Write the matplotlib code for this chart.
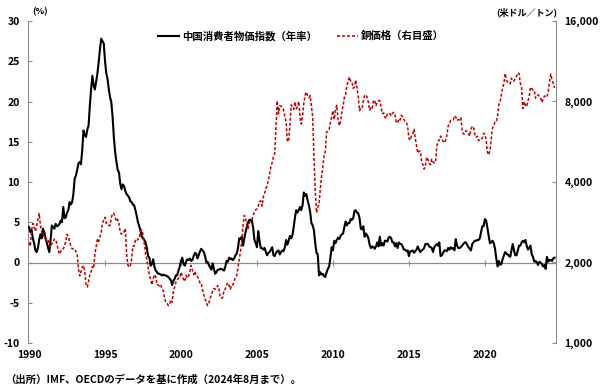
import matplotlib
matplotlib.use("Agg")
import matplotlib.pyplot as plt
import matplotlib.transforms as mtransforms
from matplotlib.ticker import FixedLocator, NullLocator
import numpy as np

plt.rcParams['font.family'] = ['Noto Sans CJK JP', 'DejaVu Sans']
plt.rcParams['axes.unicode_minus'] = False
plt.rcParams['lines.scale_dashes'] = False

start_year = 1990
# China CPI, year on year (%), monthly from 1990-01 to 2024-08
cpi_yoy = [
    4.4, 3.8, 4.0, 3.0, 2.4, 1.5, 1.3, 1.8, 2.8, 3.5, 3.0, 4.2,        # 1990
    3.8, 3.0, 2.5, 1.8, 1.3, 2.8, 4.6, 4.4, 4.2, 4.8, 4.5, 4.6,        # 1991
    4.8, 5.2, 5.0, 6.9, 5.5, 5.6, 6.2, 6.5, 7.5, 7.2, 7.5, 8.5,        # 1992
    10.4, 10.8, 11.5, 12.3, 12.5, 12.2, 14.0, 16.4, 15.8, 15.6, 16.5, 17.0,  # 1993
    19.5, 21.5, 23.2, 22.0, 21.5, 22.5, 23.5, 24.9, 26.5, 27.8, 27.5, 27.2,  # 1994
    25.0, 23.5, 22.8, 21.5, 20.5, 19.9, 18.0, 15.5, 13.7, 12.5, 11.5, 11.2,  # 1995
    9.8, 9.1, 9.7, 9.5, 8.9, 8.5, 8.3, 8.1, 7.6, 7.5, 7.2, 7.1,        # 1996
    6.5, 5.8, 5.0, 4.5, 4.0, 3.2, 3.0, 2.8, 2.5, 1.8, 0.8, 0.6,        # 1997
    -0.4, -0.2, 0.4, -0.5, -1.0, -1.2, -1.4, -1.4, -1.5, -1.6, -1.5, -1.6,  # 1998
    -1.6, -1.7, -1.8, -2.0, -2.2, -2.8, -2.3, -2.0, -1.6, -1.6, -1.0, -0.5,  # 1999
    0.2, 0.6, -0.2, -0.4, 0.1, 0.4, 0.3, 0.5, 0.2, 0.3, 0.8, 1.2,      # 2000
    1.1, 0.5, 0.9, 1.4, 1.7, 1.5, 1.3, 0.8, 0.0, 0.1, -0.3, -0.6,      # 2001
    -0.9, -0.1, -0.8, -1.4, -1.2, -0.9, -0.9, -0.8, -0.8, -0.9, -1.0, -0.5,  # 2002
    0.2, 0.1, 0.6, 0.4, 0.5, 0.3, 0.5, 0.9, 1.1, 1.8, 3.0, 2.9,        # 2003
    3.2, 2.1, 3.0, 3.8, 4.4, 5.0, 5.3, 5.3, 5.2, 4.3, 2.8, 2.4,        # 2004
    1.9, 3.9, 2.7, 1.8, 1.8, 1.6, 1.8, 1.3, 0.9, 1.2, 1.3, 1.6,        # 2005
    1.9, 0.9, 0.8, 1.2, 1.4, 1.5, 1.0, 1.3, 1.5, 1.4, 1.9, 2.8,        # 2006
    2.2, 2.7, 3.3, 3.0, 3.4, 4.4, 5.6, 6.5, 6.2, 6.5, 6.9, 6.5,        # 2007
    7.1, 8.7, 8.3, 8.5, 7.7, 7.1, 6.3, 4.9, 4.6, 4.0, 2.4, 1.2,        # 2008
    1.0, -1.6, -1.2, -1.5, -1.4, -1.7, -1.8, -1.2, -0.8, -0.5, 0.6, 1.9,  # 2009
    1.5, 2.7, 2.4, 2.8, 3.1, 2.9, 3.3, 3.5, 3.6, 4.4, 5.1, 4.6,        # 2010
    4.9, 4.9, 5.4, 5.3, 5.5, 6.4, 6.5, 6.2, 6.1, 5.5, 4.2, 4.1,        # 2011
    4.5, 3.2, 3.6, 3.4, 3.0, 2.2, 1.8, 2.0, 1.9, 1.7, 2.0, 2.5,        # 2012
    2.0, 3.2, 2.1, 2.4, 2.1, 2.7, 2.7, 2.6, 3.1, 3.2, 3.0, 2.5,        # 2013
    2.5, 2.0, 2.4, 1.8, 2.5, 2.3, 2.3, 2.0, 1.6, 1.6, 1.4, 1.5,        # 2014
    0.8, 1.4, 1.4, 1.5, 1.2, 1.4, 1.6, 2.0, 1.6, 1.3, 1.5, 1.6,        # 2015
    1.8, 2.3, 2.3, 2.3, 2.0, 1.9, 1.8, 1.3, 1.9, 2.1, 2.3, 2.1,        # 2016
    2.5, 0.8, 0.9, 1.2, 1.5, 1.5, 1.4, 1.8, 1.6, 1.9, 1.7, 1.8,        # 2017
    1.5, 2.9, 2.1, 1.8, 1.8, 1.9, 2.1, 2.3, 2.5, 2.5, 2.2, 1.9,        # 2018
    1.7, 1.5, 2.3, 2.5, 2.7, 2.7, 2.8, 2.8, 3.0, 3.8, 4.5, 4.5,        # 2019
    5.4, 5.2, 4.3, 3.3, 2.4, 2.5, 2.7, 2.4, 1.7, 0.5, -0.5, 0.2,       # 2020
    -0.3, -0.2, 0.4, 0.9, 1.3, 1.1, 1.0, 0.8, 0.7, 1.5, 2.3, 1.5,      # 2021
    0.9, 0.9, 1.5, 2.1, 2.1, 2.5, 2.7, 2.5, 2.8, 2.1, 1.6, 1.8,        # 2022
    2.1, 1.0, 0.7, 0.1, 0.2, 0.0, -0.3, 0.1, 0.0, -0.2, -0.5, -0.3,    # 2023
    -0.8, 0.7, 0.1, 0.3, 0.3, 0.2, 0.5, 0.6,                           # 2024
]

# Copper price (USD/ton), monthly from 1990-01 to 2024-08
copper_usd = [
    2370, 2300, 2650, 2800, 2700, 2620, 2750, 2900, 3050, 2750, 2600, 2550,  # 1990
    2500, 2420, 2450, 2450, 2300, 2280, 2350, 2380, 2450, 2430, 2350, 2220,  # 1991
    2150, 2200, 2250, 2250, 2300, 2400, 2550, 2500, 2400, 2300, 2250, 2250,  # 1992
    2250, 2200, 2150, 1900, 1780, 1850, 1920, 1950, 1850, 1650, 1620, 1700,  # 1993
    1800, 1850, 1930, 1900, 2150, 2300, 2450, 2400, 2500, 2600, 2800, 2900,  # 1994
    2950, 2800, 2800, 2750, 2750, 2950, 3050, 3050, 2950, 2850, 2900, 2800,  # 1995
    2600, 2550, 2600, 2600, 2680, 2150, 1960, 1920, 1950, 2050, 2300, 2300,  # 1996
    2420, 2400, 2450, 2450, 2620, 2650, 2550, 2350, 2150, 2050, 1920, 1800,  # 1997
    1720, 1650, 1740, 1800, 1770, 1650, 1650, 1630, 1650, 1590, 1570, 1470,  # 1998
    1420, 1410, 1380, 1400, 1450, 1420, 1570, 1620, 1690, 1720, 1750, 1750,  # 1999
    1840, 1780, 1730, 1700, 1790, 1750, 1780, 1850, 1950, 1870, 1800, 1850,  # 2000
    1780, 1770, 1740, 1670, 1670, 1580, 1520, 1460, 1420, 1380, 1410, 1470,  # 2001
    1510, 1560, 1600, 1590, 1600, 1640, 1590, 1480, 1470, 1480, 1580, 1590,  # 2002
    1650, 1680, 1640, 1590, 1650, 1650, 1710, 1760, 1790, 1920, 2060, 2200,  # 2003
    2420, 2760, 3000, 2950, 2740, 2680, 2820, 2850, 2900, 3000, 3100, 3150,  # 2004
    3170, 3250, 3380, 3400, 3250, 3520, 3620, 3790, 3860, 4060, 4270, 4580,  # 2005
    4730, 4980, 5100, 6380, 8050, 7200, 7710, 7690, 7600, 7450, 7030, 6680,  # 2006
    5670, 5690, 6450, 7770, 7650, 7480, 7970, 7510, 7650, 8010, 6960, 6590,  # 2007
    7060, 7890, 8430, 8690, 8380, 8270, 8410, 7640, 6990, 4930, 3720, 3070,  # 2008
    3220, 3310, 3750, 4200, 4570, 5010, 5220, 6160, 6190, 6290, 6680, 6980,  # 2009
    7390, 6850, 7460, 7750, 6840, 6500, 6740, 7280, 7710, 8290, 8470, 9150,  # 2010
    9550, 9870, 9530, 9490, 8960, 9070, 9620, 9000, 8300, 7390, 7580, 7560,  # 2011
    8040, 8440, 8470, 8290, 7920, 7420, 7580, 7510, 8090, 8060, 7710, 7960,  # 2012
    8050, 8060, 7650, 7200, 7250, 7000, 6910, 7190, 7160, 7200, 7070, 7220,  # 2013
    7290, 7150, 6650, 6670, 6890, 6820, 7110, 7000, 6870, 6740, 6710, 6450,  # 2014
    5830, 5730, 5940, 6040, 6300, 5830, 5460, 5130, 5220, 5220, 4800, 4640,  # 2015
    4470, 4600, 4950, 4870, 4690, 4640, 4870, 4750, 4720, 4730, 5450, 5660,  # 2016
    5750, 5940, 5820, 5680, 5600, 5720, 5990, 6480, 6580, 6810, 6830, 6830,  # 2017
    7070, 7000, 6800, 6840, 6830, 6960, 6250, 6050, 6050, 6220, 6190, 6070,  # 2018
    5940, 6300, 6440, 6440, 6030, 5880, 5940, 5710, 5760, 5760, 5860, 6080,  # 2019
    6050, 5690, 5180, 5050, 5240, 5760, 6370, 6500, 6700, 6710, 7070, 7770,  # 2020
    7970, 8460, 9000, 9340, 10180, 9610, 9440, 9360, 9320, 9780, 9550, 9550,  # 2021
    9780, 9940, 10240, 10180, 9360, 9030, 7530, 7980, 7750, 7650, 8030, 8370,  # 2022
    9040, 8950, 8820, 8810, 8230, 8390, 8470, 8350, 8270, 7940, 8170, 8390,  # 2023
    8340, 8310, 8680, 9480, 10130, 9640, 9350, 8990,                         # 2024
]

left_ticks = [-10, -5, 0, 5, 10, 15, 20, 25, 30]
right_ticks = [1000, 2000, 4000, 8000, 16000]
right_tick_labels = ['1,000', '2,000', '4,000', '8,000', '16,000']
year_ticks = [1990, 1995, 2000, 2005, 2010, 2015, 2020]

label_cpi = '中国消費者物価指数（年率）'
label_copper = '銅価格（右目盛）'
unit_left = '(%)'
unit_right = '(米ドル／トン)'
source_note = '（出所）IMF、OECDのデータを基に作成（2024年8月まで）。'

x_cpi = start_year + np.arange(len(cpi_yoy)) / 12.0
x_cu = start_year + np.arange(len(copper_usd)) / 12.0

W, H = 600, 391
fig = plt.figure(figsize=(W / 100, H / 100), dpi=100)
ax = fig.add_axes([28 / W, 1 - 343 / H, 528 / W, 322 / H])
ax2 = ax.twinx()

gray = '#8c8c8c'
fs = 7.5

l1, = ax.plot(x_cpi, cpi_yoy, color='black', lw=1.5, zorder=3)
l2, = ax2.plot(x_cu, copper_usd, color='#c00000', lw=1.1, dashes=(2.2, 1.4))

ax.set_xlim(1989.93, 2024.68)
ax.set_ylim(-10, 30)
ax2.set_yscale('log', base=2)
ax2.set_ylim(1000, 16000)

# spines
for s in ['top']:
    ax.spines[s].set_visible(False)
    ax2.spines[s].set_visible(False)
ax2.spines['bottom'].set_visible(False)
ax2.spines['left'].set_visible(False)
ax.spines['right'].set_visible(False)
ax.spines['left'].set_color(gray)
ax2.spines['right'].set_color(gray)
ax.spines['bottom'].set_position(('data', 0))
ax.spines['bottom'].set_color(gray)
ax.spines['bottom'].set_linewidth(0.9)

ax.set_yticks(left_ticks)
ax.set_yticklabels([str(v) for v in left_ticks])
ax.tick_params(axis='y', direction='in', length=3, width=0.8, color=gray,
               labelsize=fs, pad=6)
for t in ax.get_yticklabels():
    t.set_fontweight('bold')

ax2.yaxis.set_major_locator(FixedLocator(right_ticks))
ax2.yaxis.set_minor_locator(NullLocator())
ax2.set_yticklabels(right_tick_labels)
ax2.tick_params(axis='y', direction='in', length=3, width=0.8, color=gray,
                labelsize=fs, pad=6)
for t in ax2.get_yticklabels():
    t.set_fontweight('bold')

ax.set_xticks(year_ticks[1:])
ax.tick_params(axis='x', direction='inout', length=5, width=0.8, color=gray,
               labelbottom=False)
trans = mtransforms.blended_transform_factory(ax.transData, ax.transAxes)
for yr in year_ticks:
    ax.text(yr, -0.037, str(yr), transform=trans, ha='center', va='center',
            fontsize=fs, fontweight='bold')

# units
fig.text(40 / W, 1 - 12 / H, unit_left, ha='center', va='center',
         fontsize=6.5, fontweight='bold')
fig.text(557 / W, 1 - 12 / H, unit_right, ha='right', va='center',
         fontsize=6.5, fontweight='bold')

# legend
leg = fig.legend([l1, l2], [label_cpi, label_copper], loc='center',
                 bbox_to_anchor=(301 / W, 1 - 36 / H), ncol=2, frameon=False,
                 fontsize=fs, handlelength=2.0, handletextpad=0.3,
                 columnspacing=2.0, prop={'weight': 'bold', 'size': fs})

fig.text(5 / W, 1 - 380 / H, source_note, ha='left', va='center',
         fontsize=fs, fontweight='bold')

fig.savefig('out.png', dpi=100)
